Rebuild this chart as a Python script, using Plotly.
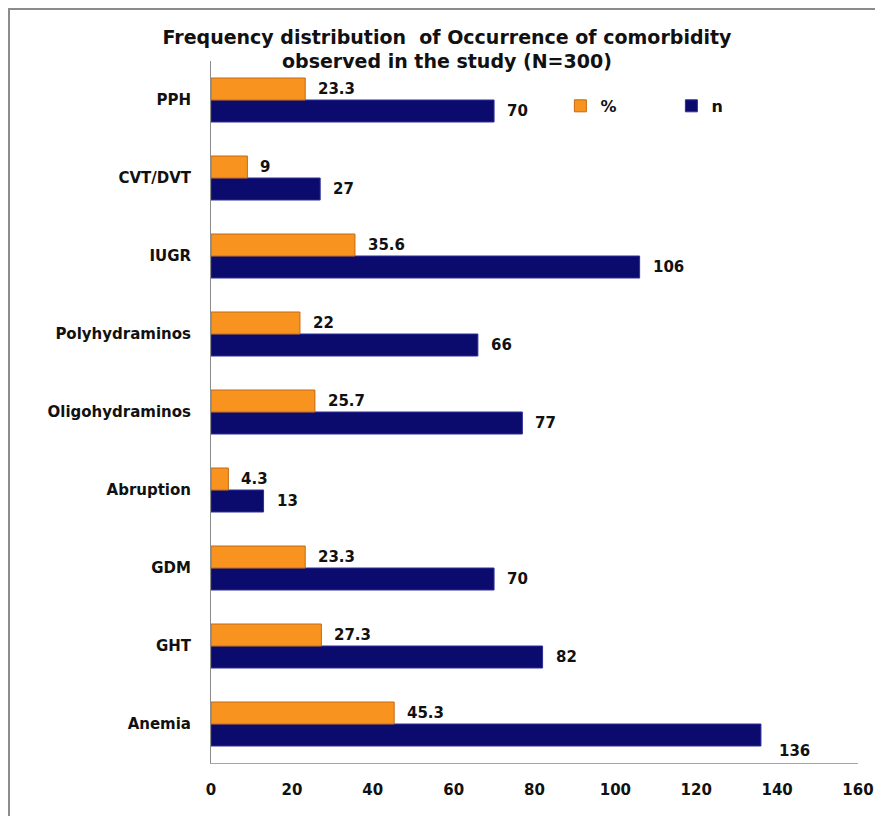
import plotly.graph_objects as go

# Comorbidities, listed bottom-to-top as they appear on the category axis
categories = ["Anemia", "GHT", "GDM", "Abruption", "Oligohydraminos",
              "Polyhydraminos", "IUGR", "CVT/DVT", "PPH"]
n_values = [136, 82, 70, 13, 77, 66, 106, 27, 70]
pct_values = [45.3, 27.3, 23.3, 4.3, 25.7, 22, 35.6, 9, 23.3]
x_ticks = [0, 20, 40, 60, 80, 100, 120, 140, 160]
title_lines = ["Frequency distribution  of Occurrence of comorbidity",
               "observed in the study (N=300)"]

ORANGE = "#F7931E"
ORANGE_EDGE = "#C46A12"
NAVY = "#0B0B6E"
NAVY_EDGE = "#2E2E9A"
TEXT = "#111111"
LABEL_FONT = dict(family="DejaVu Sans", size=15, color=TEXT, weight="bold")
TICK_FONT = dict(family="DejaVu Sans", size=15, color=TEXT, weight="bold")
TITLE_FONT = dict(family="DejaVu Sans", size=19, color=TEXT, weight="bold")

# Plot area in pixels: x 211..858, y 61..763
PLOT_LEFT, PLOT_W, PLOT_BOTTOM, PLOT_H = 211, 647, 763, 702


def px_x(px):
    return (px - PLOT_LEFT) / PLOT_W


def px_y(py):
    return (PLOT_BOTTOM - py) / PLOT_H


fig = go.Figure()
fig.add_trace(go.Bar(
    y=categories, x=n_values, name="n", orientation="h",
    marker=dict(color=NAVY, line=dict(color=NAVY_EDGE, width=1)),
    hoverinfo="x+y",
))
fig.add_trace(go.Bar(
    y=categories, x=pct_values, name="%", orientation="h",
    marker=dict(color=ORANGE, line=dict(color=ORANGE_EDGE, width=1)),
    hoverinfo="x+y",
))

# Value labels just past the end of each bar
annotations = []
for cat, v in zip(categories, pct_values):
    annotations.append(dict(x=v, y=cat, text=f"{v:g}", showarrow=False,
                            xanchor="left", yanchor="middle",
                            xshift=11, yshift=11, font=LABEL_FONT))
for cat, v in zip(categories, n_values):
    big = v == max(n_values)
    annotations.append(dict(x=v, y=cat, text=f"{v:g}", showarrow=False,
                            xanchor="left", yanchor="middle",
                            xshift=16 if big else 11,
                            yshift=-27 if big else -11, font=LABEL_FONT))

# Second title line, set tight under the first
annotations.append(dict(text=title_lines[1], xref="paper", yref="paper",
                        x=px_x(447), y=px_y(61), xanchor="center", yanchor="middle",
                        showarrow=False, font=TITLE_FONT))

fig.update_layout(
    width=875, height=816,
    margin=dict(l=211, r=17, t=61, b=53, autoexpand=False),
    paper_bgcolor="white", plot_bgcolor="white",
    barmode="group", bargap=0.436, bargroupgap=0,
    title=dict(
        text=title_lines[0],
        x=447 / 875, xanchor="center", y=1 - 37 / 816, yanchor="middle",
        yref="container", font=TITLE_FONT,
    ),
    legend=dict(
        orientation="h", traceorder="reversed",
        x=0.540, xanchor="left", y=0.936, yanchor="middle",
        entrywidth=66, entrywidthmode="pixels", itemwidth=30,
        font=dict(family="DejaVu Sans", size=16, color=TEXT, weight="bold"),
        bgcolor="rgba(0,0,0,0)",
    ),
    xaxis=dict(
        range=[0, 160], tickvals=x_ticks, ticktext=[str(t) for t in x_ticks],
        showgrid=False, zeroline=False, showline=True,
        linecolor="#A6A6A6", linewidth=1, ticks="",
        ticklabelstandoff=13, automargin=False,
        tickfont=TICK_FONT, fixedrange=True,
    ),
    yaxis=dict(
        categoryorder="array", categoryarray=categories,
        showgrid=False, zeroline=False, showline=True,
        linecolor="#8C8C8C", linewidth=1, ticks="",
        ticklabelstandoff=16, automargin=False,
        tickfont=TICK_FONT, fixedrange=True,
    ),
    annotations=annotations,
    shapes=[dict(
        type="rect", xref="paper", yref="paper",
        x0=px_x(9), x1=px_x(890), y0=px_y(840), y1=px_y(9),
        line=dict(color="#8C8C8C", width=2), fillcolor="rgba(0,0,0,0)",
        layer="below",
    )],
    showlegend=True,
)

fig.write_html("out.html")
